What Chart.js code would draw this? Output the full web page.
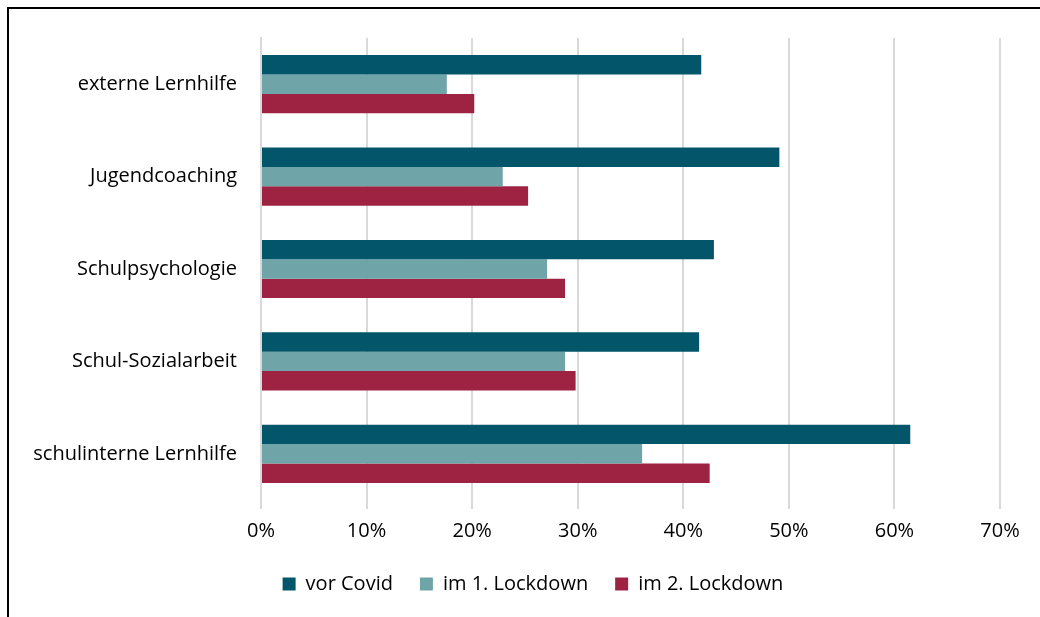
<!DOCTYPE html>
<html>
<head>
<meta charset="utf-8">
<script src="https://cdn.jsdelivr.net/npm/chart.js@4/dist/chart.umd.min.js"></script>
<style>
  html, body { margin: 0; padding: 0; background: #fff; }
  #wrap { position: relative; width: 1040px; height: 617px; }
  #frame { position: absolute; left: 7px; top: 7px; right: -10px; bottom: -10px; border-top: 2px solid #000; border-left: 2px solid #000; pointer-events: none; }
  canvas { position: absolute; left: 0; top: 0; }
</style>
</head>
<body>
<div id="wrap">
  <canvas id="c" width="1040" height="617"></canvas>
  <div id="frame"></div>
</div>
<script>
const categories = ["externe Lernhilfe", "Jugendcoaching", "Schulpsychologie", "Schul-Sozialarbeit", "schulinterne Lernhilfe"];
const seriesNames = ["vor Covid", "im 1. Lockdown", "im 2. Lockdown"];
const vorCovid = [41.7, 49.1, 42.9, 41.5, 61.5];
const lockdown1 = [17.6, 22.9, 27.1, 28.8, 36.1];
const lockdown2 = [20.2, 25.3, 28.8, 29.8, 42.5];
const tickValues = [0, 10, 20, 30, 40, 50, 60, 70];
const colors = ["#03566A", "#6FA5A8", "#9E2343"];

const FONT = "'Open Sans', 'Liberation Sans', sans-serif";

const legendShift = {
  id: "legendShift",
  afterLayout(chart) {
    const lg = chart.legend;
    if (lg) { lg.left += 33; lg.right += 33; }
  }
};

new Chart(document.getElementById("c"), {
  type: "bar",
  data: {
    labels: categories,
    datasets: [vorCovid, lockdown1, lockdown2].map((d, i) => ({
      label: seriesNames[i],
      data: d,
      backgroundColor: colors[i],
      borderWidth: 0,
      categoryPercentage: 0.63,
      barPercentage: 1.0
    }))
  },
  plugins: [legendShift],
  options: {
    indexAxis: "y",
    responsive: false,
    animation: false,
    layout: { padding: { top: 38, right: 40, left: 0, bottom: 13 } },
    scales: {
      x: {
        min: 0, max: 70,
        afterBuildTicks: (s) => { s.ticks = tickValues.map(v => ({ value: v })); },
        ticks: {
          callback: (v) => v + "%",
          color: "#000",
          font: { family: FONT, size: 20 },
          padding: 10
        },
        grid: { color: "#d9d9d9", lineWidth: 2, drawTicks: true, tickLength: 9, tickColor: "#d9d9d9", tickWidth: 2 },
        border: { display: false },
        afterFit: (s) => { s.height = 47; }
      },
      y: {
        ticks: {
          color: "#000",
          font: { family: FONT, size: 20 },
          padding: 24
        },
        grid: { display: false, drawTicks: false },
        border: { display: true, color: "#d9d9d9", width: 2 },
        afterFit: (s) => { s.width = 261; }
      }
    },
    plugins: {
      legend: {
        position: "bottom",
        labels: {
          color: "#000",
          font: { family: FONT, size: 20 },
          boxWidth: 13,
          boxHeight: 13,
          padding: 27
        }
      },
      tooltip: { enabled: false }
    }
  }
});
</script>
</body>
</html>
